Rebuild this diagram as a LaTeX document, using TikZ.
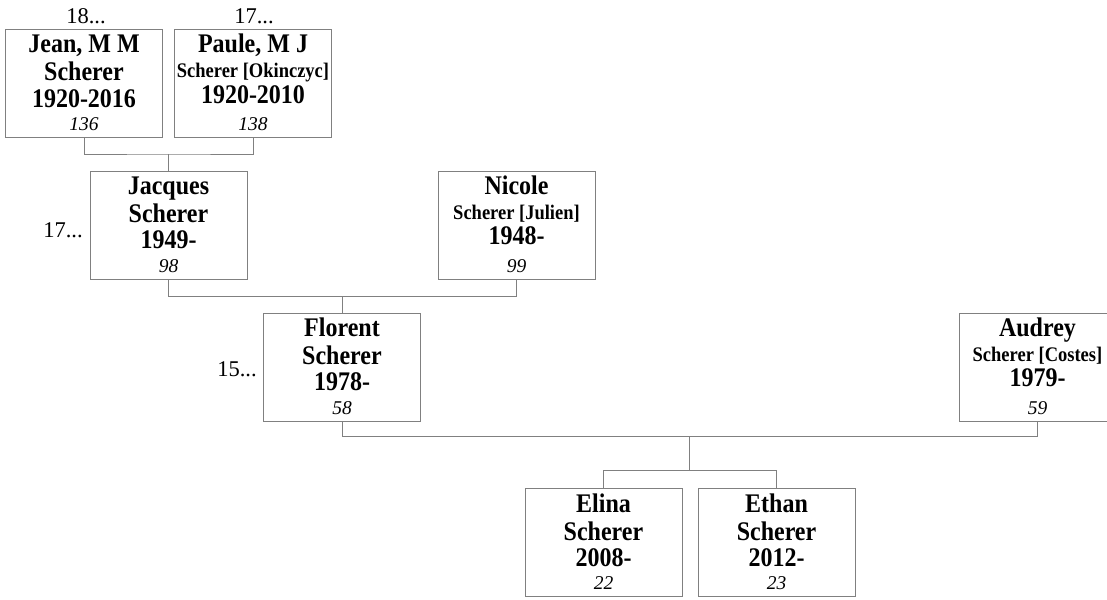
\documentclass[tikz,border=0pt]{standalone}
\usepackage{fontspec}
\usepackage{graphicx}
\setmainfont{Liberation Serif}
\usetikzlibrary{calc}
\definecolor{lc}{RGB}{128,128,128}
\tikzset{
  pbox/.style={draw=lc, line width=1pt, minimum width=157pt, minimum height=108pt, inner sep=0pt},
  bigtxt/.style={font=\fontsize{24}{26}\selectfont\bfseries, anchor=base, inner sep=0pt},
  midtxt/.style={font=\fontsize{18.5}{20}\selectfont\bfseries, anchor=base, inner sep=0pt},
  numtxt/.style={font=\fontsize{19.5}{22}\selectfont\itshape, anchor=base, inner sep=0pt},
  gentxt/.style={font=\fontsize{22.5}{24}\selectfont, anchor=base, inner sep=0pt},
  link/.style={draw=lc, line width=1pt},
}
\newcommand\tallA[1]{\scalebox{1}[1.12]{#1}}
% id, cx, cy, name, surname, years, number
\newcommand\famboxA[7]{%
  \node[pbox] (#1) at (#2,#3) {};
  \node[bigtxt] (#1-n) at ($(#1.north)+(0,24)$) {\tallA{#4}};
  \node[bigtxt] (#1-s) at ($(#1.north)+(0,52)$) {\tallA{#5}};
  \node[bigtxt] (#1-y) at ($(#1.north)+(0,78)$) {\tallA{#6}};
  \node[numtxt] (#1-k) at ($(#1.north)+(0,101.6)$) {#7};
}
\newcommand\famboxB[7]{%
  \node[pbox] (#1) at (#2,#3) {};
  \node[bigtxt] (#1-n) at ($(#1.north)+(0,24)$) {\tallA{#4}};
  \node[midtxt] (#1-s) at ($(#1.north)+(0,48.5)$) {\tallA{#5}};
  \node[bigtxt] (#1-y) at ($(#1.north)+(0,74)$) {\tallA{#6}};
  \node[numtxt] (#1-k) at ($(#1.north)+(0,101.6)$) {#7};
}
\begin{document}
\begin{tikzpicture}[x=1pt,y=-1pt]
\useasboundingbox (0,0) rectangle (1107,599);
\fill[white] (0,0) rectangle (1107,599);

\famboxA{jean}{84}{83.5}{Jean, M M}{Scherer}{1920-2016}{136}
\famboxB{paule}{253}{83.5}{Paule, M J}{Scherer [Okinczyc]}{1920-2010}{138}
\famboxA{jacques}{168.5}{225}{Jacques}{Scherer}{1949-}{98}
\famboxB{nicole}{516.5}{225}{Nicole}{Scherer [Julien]}{1948-}{99}
\famboxA{florent}{342}{367}{Florent}{Scherer}{1978-}{58}
\famboxB{audrey}{1037.5}{367}{Audrey}{Scherer [Costes]}{1979-}{59}
\famboxA{elina}{603.5}{542.5}{Elina}{Scherer}{2008-}{22}
\famboxA{ethan}{776.5}{542.5}{Ethan}{Scherer}{2012-}{23}

\node[gentxt] (g1) at (86,24) {18...};
\node[gentxt] (g2) at (254,24) {17...};
\node[gentxt] (g3) at (63,237) {17...};
\node[gentxt] (g4) at (237,376) {15...};

% couple links
\coordinate (m1) at ($(jean.south)!0.5!(paule.south)+(0,16)$);
\coordinate (m2) at ($(jacques.south)!0.5!(nicole.south)+(0,17)$);
\coordinate (m3) at ($(florent.south)!0.5!(audrey.south)+(0,15)$);
\coordinate (k3) at ($(m3)+(0,34)$);

\draw[link] (jean.south) |- (m1) -| (paule.south);
\draw[link] (m1) -- (m1 |- jacques.north);
\draw[link] (jacques.south) |- (m2) -| (nicole.south);
\draw[link] (m2) -- (m2 |- florent.north);
\draw[link] (florent.south) |- (m3) -| (audrey.south);
\draw[link] (m3) -- (k3);
\draw[link] (elina.north) |- (k3) -| (ethan.north);
\end{tikzpicture}
\end{document}
